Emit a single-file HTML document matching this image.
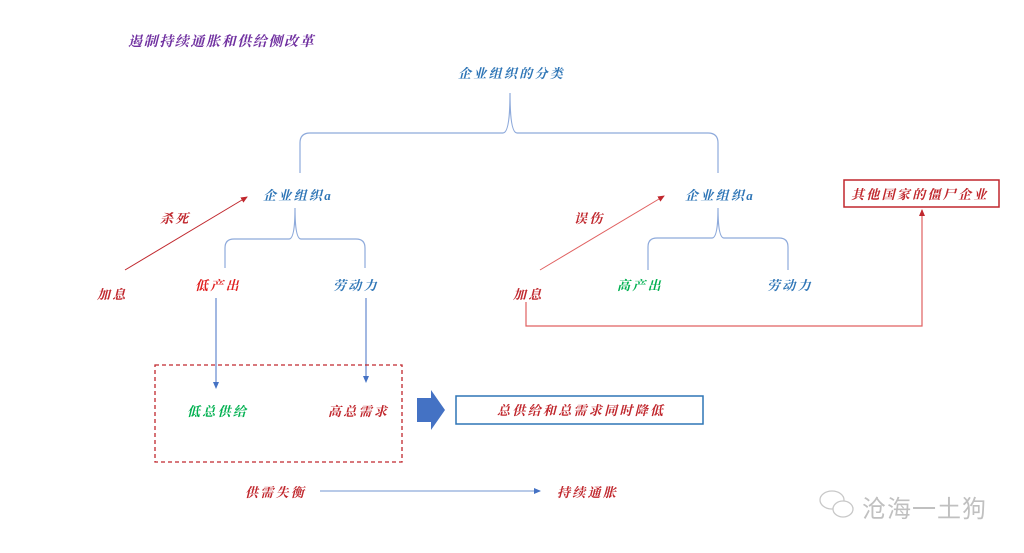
<!DOCTYPE html>
<html><head><meta charset="utf-8"><style>
html,body{margin:0;padding:0;background:#fff;}
svg{display:block;}
text{font-family:"Liberation Serif","Noto Serif CJK SC",serif;font-style:italic;font-weight:bold;font-size:13px;letter-spacing:2.3px;}
</style></head><body>
<svg width="1024" height="553" viewBox="0 0 1024 553" xmlns="http://www.w3.org/2000/svg">
<defs>
<marker id="ar" markerWidth="8" markerHeight="8" refX="6" refY="3" orient="auto" markerUnits="userSpaceOnUse"><path d="M0,0 L7,3 L0,6 Z" fill="#c0272d"/></marker>
<marker id="ab" markerWidth="8" markerHeight="8" refX="6" refY="3" orient="auto" markerUnits="userSpaceOnUse"><path d="M0,0 L7,3 L0,6 Z" fill="#4472c4"/></marker>
</defs>
<text x="128" y="46" fill="#7030a0" style="font-size:14px;letter-spacing:1.6px">遏制持续通胀和供给侧改革</text>
<text x="458" y="78" fill="#2e75b6">企业组织的分类</text>
<g fill="none" stroke="#8eaadb" stroke-width="1.2">
<path d="M300,173 L300,143 Q300,133 310,133 L503,133 Q510,133 510,93 Q510,133 517,133 L708,133 Q718,133 718,143 L718,173"/>
<path d="M225,268 L225,248 Q225,239 234,239 L289,239 Q295,239 295,208 Q295,239 301,239 L356,239 Q365,239 365,248 L365,268"/>
<path d="M648,270 L648,247 Q648,238 657,238 L712,238 Q718,238 718,208 Q718,238 724,238 L779,238 Q788,238 788,247 L788,270"/>
</g>
<text x="263" y="200" fill="#2e75b6">企业组织a</text>
<text x="685" y="200" fill="#2e75b6">企业组织a</text>
<line x1="125" y1="270" x2="247" y2="197" stroke="#c0272d" stroke-width="1" marker-end="url(#ar)"/>
<line x1="540" y1="270" x2="664" y2="196" stroke="#e06060" stroke-width="1" marker-end="url(#ar)"/>
<text x="160" y="223" fill="#c0272d">杀死</text>
<text x="574" y="223" fill="#c0272d">误伤</text>
<text x="97" y="299" fill="#c0272d">加息</text>
<text x="513" y="299" fill="#c0272d">加息</text>
<text x="195" y="290" fill="#e02020">低产出</text>
<text x="333" y="290" fill="#2e75b6">劳动力</text>
<text x="617" y="290" fill="#00b050">高产出</text>
<text x="767" y="290" fill="#2e75b6">劳动力</text>
<line x1="216" y1="298" x2="216" y2="388" stroke="#4472c4" marker-end="url(#ab)"/>
<line x1="366" y1="298" x2="366" y2="382" stroke="#4472c4" marker-end="url(#ab)"/>
<rect x="155" y="365" width="247" height="97" fill="none" stroke="#c0272d" stroke-width="1.3" stroke-dasharray="4,3"/>
<text x="187" y="416" fill="#00b050">低总供给</text>
<text x="328" y="416" fill="#c0272d">高总需求</text>
<path d="M417,398 L431,398 L431,390 L445,410 L431,430 L431,422 L417,422 Z" fill="#4472c4"/>
<rect x="456" y="396" width="247" height="28" fill="none" stroke="#2e75b6" stroke-width="1.5"/>
<text x="497" y="415" fill="#c0272d">总供给和总需求同时降低</text>
<text x="245" y="497" fill="#c0272d">供需失衡</text>
<line x1="320" y1="491" x2="540" y2="491" stroke="#8eaadb" stroke-width="1.2" marker-end="url(#ab)"/>
<text x="557" y="497" fill="#c0272d">持续通胀</text>
<path d="M526,302 L526,326 L922,326 L922,210" fill="none" stroke="#e06060" stroke-width="1.2" marker-end="url(#ar)"/>
<rect x="844" y="180" width="155" height="27" fill="none" stroke="#c0272d" stroke-width="1.5"/>
<text x="851" y="199" fill="#c0272d">其他国家的僵尸企业</text>
<g fill="none" stroke="#c8c8c8" stroke-width="1.3">
<ellipse cx="832" cy="500" rx="12" ry="9"/>
<ellipse cx="843" cy="509" rx="10" ry="8" fill="#fff"/>
</g>
<text x="862" y="517" fill="#c0c0c0" style="font-size:24px;letter-spacing:1px;font-style:normal;font-weight:normal;font-family:'Noto Sans CJK SC',sans-serif">沧海一土狗</text>
</svg>
</body></html>
